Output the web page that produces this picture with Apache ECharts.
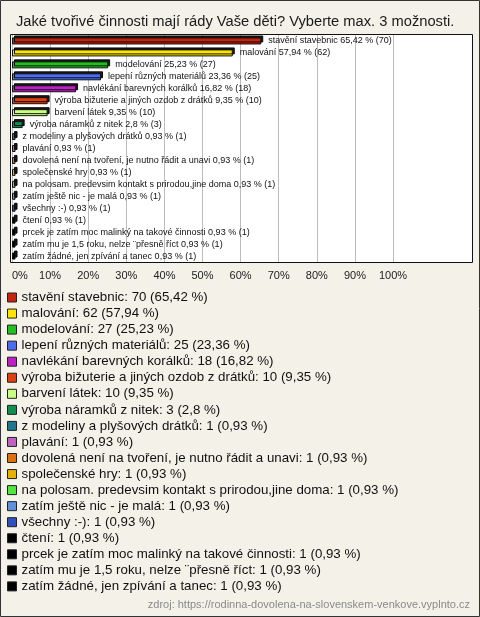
<!DOCTYPE html>
<html><head><meta charset="utf-8">
<script src="https://cdn.jsdelivr.net/npm/echarts@6/dist/echarts.min.js"></script>
<style>html,body{margin:0;padding:0;background:#f3f1e8}#c{width:480px;height:617px}</style>
</head><body><div id="c"></div>
<script>
const categories = [
  "stavění stavebnic",
  "malování",
  "modelování",
  "lepení různých materiálů",
  "navlékání barevných korálků",
  "výroba bižuterie a jiných ozdob z drátků",
  "barvení látek",
  "výroba náramků z nitek",
  "z modeliny a plyšových drátků",
  "plavání",
  "dovolená není na tvoření, je nutno řádit a unavi",
  "společenské hry",
  "na polosam. predevsim kontakt s prirodou,jine doma",
  "zatím ještě nic - je malá",
  "všechny :-)",
  "čtení",
  "prcek je zatím moc malinký na takové činnosti",
  "zatím mu je 1,5 roku, nelze ¨přesně říct",
  "zatím žádné, jen zpívání a tanec"
];
const counts = [70, 62, 27, 25, 18, 10, 10, 3, 1, 1, 1, 1, 1, 1, 1, 1, 1, 1, 1];
const percents = [65.42, 57.94, 25.23, 23.36, 16.82, 9.35, 9.35, 2.8, 0.93, 0.93, 0.93, 0.93, 0.93, 0.93, 0.93, 0.93, 0.93, 0.93, 0.93];
const colors = ["#c8230e", "#ffe600", "#1fc01f", "#4a6cf0", "#c01ec8", "#e0400e", "#c8ff80", "#0f9050", "#1e7890", "#c060c0", "#e0700e", "#e8b000", "#50e83c", "#6090e0", "#3050c0", "#000000", "#000000", "#000000", "#000000"];
const tickLabels = ["0%", "10%", "20%", "30%", "40%", "50%", "60%", "70%", "80%", "90%", "100%"];
const source = "zdroj: https://rodinna-dovolena-na-slovenskem-venkove.vyplnto.cz";

const fmt = v => String(v).replace('.', ',');
const chart = echarts.init(document.getElementById('c'), null, {renderer: 'canvas'});
const series = categories.map((name, i) => ({
  name: name + ': ' + counts[i] + ' (' + fmt(percents[i]) + ' %)',
  type: 'bar',
  stack: 'all',
  barWidth: 7,
  silent: true,
  itemStyle: {
    color: colors[i], borderColor: '#111', borderWidth: 1,
    shadowColor: 'rgba(0,0,0,0.9)', shadowBlur: 0, shadowOffsetX: 2, shadowOffsetY: -2
  },
  label: {
    show: true, position: 'right', distance: 7,
    fontFamily: 'Liberation Sans', fontSize: 9, color: '#111',
    formatter: () => categories[i] + ' ' + fmt(percents[i]) + ' % (' + counts[i] + ')'
  },
  data: categories.map((c, j) => j === i ? percents[i] : '-')
}));

chart.setOption({
  backgroundColor: '#f3f1e8',
  animation: false,
  title: {
    text: 'Jaké tvořivé činnosti mají rády Vaše děti? Vyberte max. 3 možnosti.',
    left: 11, top: 9,
    textStyle: {fontFamily: 'Liberation Sans', fontSize: 14.7, fontWeight: 'normal', color: '#1a1a1a'}
  },
  graphic: [
    {type: 'rect', z: -10, silent: true, shape: {x: 0.5, y: 0.5, width: 479, height: 616}, style: {fill: 'none', stroke: '#333', lineWidth: 1}},
    {type: 'rect', z: -5, silent: true, shape: {x: 10.5, y: 34.5, width: 462, height: 228}, style: {fill: '#fff', stroke: '#111', lineWidth: 1}},
    {type: 'text', right: 10, top: 599, silent: true, style: {text: source, fontFamily: 'Liberation Sans', fontSize: 11, fill: '#8a8a8a'}}
  ],
  grid: {left: 12, top: 35, width: 381, height: 227, containLabel: false},
  xAxis: {
    type: 'value', min: 0, max: 100, interval: 10,
    axisLine: {show: false}, axisTick: {show: false},
    splitLine: {show: true, lineStyle: {color: '#bdbdbd', width: 1}},
    axisLabel: {
      margin: 8, alignMinLabel: 'left',
      fontFamily: 'Liberation Sans', fontSize: 11, color: '#222',
      formatter: (v) => tickLabels[Math.round(v / 10)]
    }
  },
  yAxis: {
    type: 'category', data: categories, inverse: true,
    axisLine: {show: false}, axisTick: {show: false}, axisLabel: {show: false}, splitLine: {show: false}
  },
  legend: {
    orient: 'vertical', left: 7, top: 291, padding: 0,
    icon: 'rect', itemWidth: 9, itemHeight: 9, itemGap: 3.05,
    selectedMode: false,
    itemStyle: {borderColor: '#222', borderWidth: 1, shadowBlur: 0, shadowOffsetX: 0, shadowOffsetY: 0, shadowColor: 'transparent'},
    textStyle: {fontFamily: 'Liberation Sans', fontSize: 13.3, color: '#111', lineHeight: 13},
    data: series.map(s => s.name)
  },
  series: series
});
</script></body></html>
